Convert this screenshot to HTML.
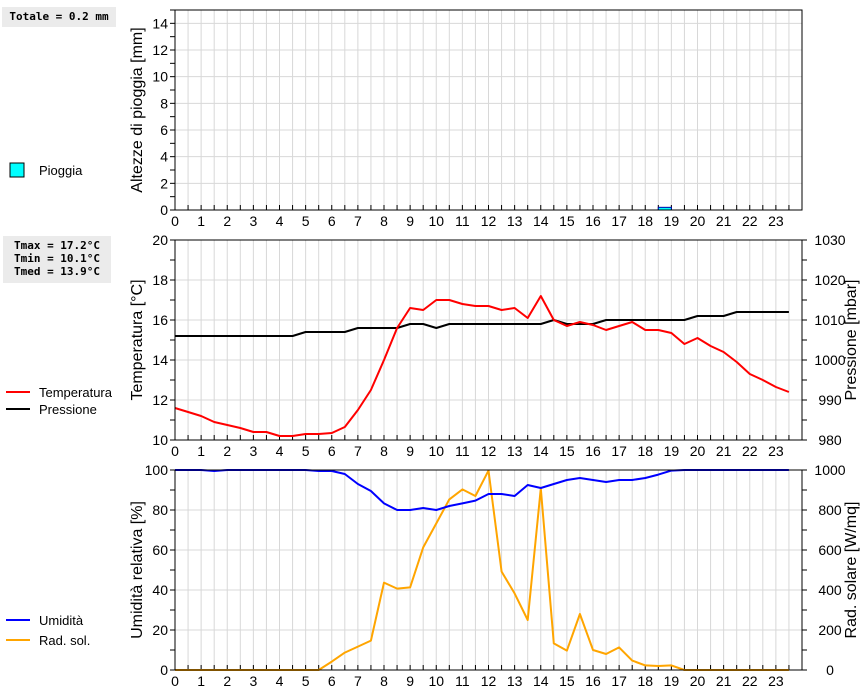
<!DOCTYPE html>
<html><head><meta charset="utf-8"><style>
body{margin:0;background:#fff;width:860px;height:690px;overflow:hidden}
svg{font-family:"Liberation Sans",sans-serif}
.mono{font-family:"DejaVu Sans Mono","Liberation Mono",monospace;font-weight:bold;font-size:11px}
</style></head><body>
<svg id="chart" width="860" height="690" xmlns="http://www.w3.org/2000/svg"></svg>
<script>
const hours = [0,0.5,1,1.5,2,2.5,3,3.5,4,4.5,5,5.5,6,6.5,7,7.5,8,8.5,9,9.5,10,10.5,11,11.5,12,12.5,13,13.5,14,14.5,15,15.5,16,16.5,17,17.5,18,18.5,19,19.5,20,20.5,21,21.5,22,22.5,23,23.5];
const temperature = [11.6,11.4,11.2,10.9,10.75,10.6,10.4,10.4,10.2,10.2,10.3,10.3,10.35,10.65,11.5,12.5,14.0,15.6,16.6,16.5,17.0,17.0,16.8,16.7,16.7,16.5,16.6,16.1,17.2,16.0,15.7,15.9,15.75,15.5,15.7,15.9,15.5,15.5,15.35,14.8,15.1,14.7,14.4,13.9,13.3,13.0,12.65,12.4];
const pressure = [1006,1006,1006,1006,1006,1006,1006,1006,1006,1006,1007,1007,1007,1007,1008,1008,1008,1008,1009,1009,1008,1009,1009,1009,1009,1009,1009,1009,1009,1010,1009,1009,1009,1010,1010,1010,1010,1010,1010,1010,1011,1011,1011,1012,1012,1012,1012,1012];
const humidity = [100,100,100,99.5,100,100,100,100,100,100,100,99.5,99.5,98,93,89.5,83.3,80,80,81,80,82,83.3,84.7,88,88,87,92.5,91,93,95,96,95,94,95,95,96,97.7,99.7,100,100,100,100,100,100,100,100,100];
const radiation = [0,0,0,0,0,0,0,0,0,0,0,0,42,87,117,147,437,407,413,613,733,853,903,870,997,492,383,250,908,133,97,280,100,80,113,47,23,20,23,0,0,0,0,0,0,0,0,0];
const rainHours = [18.5];
const rainValues = [0.2];
const xTicks = [0,1,2,3,4,5,6,7,8,9,10,11,12,13,14,15,16,17,18,19,20,21,22,23];
const rainTicks = [0,2,4,6,8,10,12,14];
const tempTicks = [10,12,14,16,18,20];
const presTicks = [980,990,1000,1010,1020,1030];
const humTicks = [0,20,40,60,80,100];
const radTicks = [0,200,400,600,800,1000];

const svg = document.getElementById('chart');
const NS = 'http://www.w3.org/2000/svg';
const X0 = 175, X1 = 802;
const xs = h => X0 + h * (X1 - X0) / 24;
function mk(tag, attrs, parent){const e=document.createElementNS(NS,tag);for(const k in attrs)e.setAttribute(k,attrs[k]);(parent||svg).appendChild(e);return e;}
function txt(s, attrs, parent){const e=mk('text',attrs,parent);e.textContent=s;return e;}

function panel(name, top, bot, min, max, ticks, minorStep, title){
  const g = mk('g',{});
  
  
  const ys = v => bot - (v-min)*(bot-top)/(max-min);
  for(let h=0.5; h<24; h+=0.5){
    const l = mk('line',{x1:xs(h),x2:xs(h),y1:top,y2:bot,stroke:'#d8d8d8','stroke-width':1},g);
    
    
  }
  ticks.forEach(v=>{ if(v>min && v<max){
    const l = mk('line',{x1:X0,x2:X1,y1:ys(v),y2:ys(v),stroke:'#d8d8d8','stroke-width':1},g);
    
    
  }});
  for(let v=min; v<=max+1e-9; v+=minorStep){
    mk('line',{x1:X0-5,x2:X0,y1:ys(v),y2:ys(v),stroke:'#000'},g);
  }
  for(let h=0.5; h<24; h+=0.5){ mk('line',{x1:xs(h),x2:xs(h),y1:bot-5,y2:bot,stroke:'#000'},g); }
  ticks.forEach(v=>{
    const t = txt(String(v),{x:X0-7,y:ys(v)+5,'text-anchor':'end','font-size':14,fill:'#000'},g);
    
    
  });
  xTicks.forEach(h=>{
    const t = txt(String(h),{x:xs(h),y:bot+16,'text-anchor':'middle','font-size':14,fill:'#000'},g);
    
    
  });
  const yt = txt(title,{x:0,y:0,transform:`translate(142,${(top+bot)/2}) rotate(-90)`,'text-anchor':'middle','font-size':16,fill:'#000'},g);
  
  
  return {g, ys};
}
function frame(p, top, bot){
  const r = mk('rect',{x:X0,y:top,width:X1-X0,height:bot-top,fill:'none',stroke:'#000','stroke-width':1},p.g);
  
  
}
function rightAxis(p, top, bot, min, max, ticks, minorStep, title){
  const ys = v => bot - (v-min)*(bot-top)/(max-min);
  for(let v=min; v<=max+1e-9; v+=minorStep){ mk('line',{x1:X1,x2:X1+5,y1:ys(v),y2:ys(v),stroke:'#000'},p.g); }
  ticks.forEach(v=>{
    const t = txt(String(v),{x:X1+28,y:ys(v)+5,'text-anchor':'middle','font-size':14,fill:'#000'},p.g);
    
    
  });
  const yt = txt(title,{x:0,y:0,transform:`translate(856,${(top+bot)/2}) rotate(-90)`,'text-anchor':'middle','font-size':16,fill:'#000'},p.g);
  
  
  return ys;
}
function line(vals, ys, color, name, parent){
  const pts = hours.map((h,i)=>xs(h).toFixed(1)+','+ys(vals[i]).toFixed(1)).join(' ');
  const pl = mk('polyline',{points:pts,fill:'none',stroke:color,'stroke-width':2,'stroke-linejoin':'round'},parent);
  
  
}

// Panel 1: rain
const p1 = panel('rain',10,210,0,15,rainTicks,1,'Altezze di pioggia [mm]');
rainHours.forEach((h,i)=>{
  const y = p1.ys(rainValues[i]);
  const b = mk('rect',{x:xs(h),y:y,width:xs(h+0.5)-xs(h),height:210-y,fill:'#00ffff',stroke:'#0000aa','stroke-width':1},p1.g);
  
  
});
frame(p1,10,210);

// Panel 2: temperature + pressure
const p2 = panel('temperature',240,440,10,20,tempTicks,1,'Temperatura [°C]');
const yp = rightAxis(p2,240,440,980,1030,presTicks,5,'Pressione [mbar]');
line(pressure, yp, '#000', 'pressure-line', p2.g);
line(temperature, p2.ys, '#ff0000', 'temperature-line', p2.g);
frame(p2,240,440);

// Panel 3: humidity + radiation
const p3 = panel('humidity',470,670,0,100,humTicks,10,'Umidità relativa [%]');
const yr = rightAxis(p3,470,670,0,1000,radTicks,100,'Rad. solare [W/mq]');
line(radiation, yr, '#ffa500', 'radiation-line', p3.g);
line(humidity, p3.ys, '#0000ff', 'humidity-line', p3.g);
frame(p3,470,670);

// Left info boxes & legends
function infoBox(lines, x, y, w, h, name){
  const g = mk('g',{});
  
  
  mk('rect',{x:x,y:y,width:w,height:h,fill:'#ebebeb'},g);
  lines.forEach((s,i)=>{ txt(s,{x:x+w/2,y:y+13+i*13,'text-anchor':'middle',class:'mono',fill:'#000'},g); });
}
infoBox(['Totale = 0.2 mm'],2,7,114,20,'rain-total-box');
infoBox(['Tmax = 17.2°C','Tmin = 10.1°C','Tmed = 13.9°C'],3,236,108,47,'temperature-stats-box');

function legend(label, y, color, kind, name){
  const g = mk('g',{});
  
  
  if(kind==='box'){ mk('rect',{x:10,y:y-7,width:14,height:14,fill:'#00ffff',stroke:'#000'},g); }
  else { mk('line',{x1:6,x2:30,y1:y,y2:y,stroke:color,'stroke-width':2},g); }
  txt(label,{x:39,y:y+5,'font-size':13,fill:'#000'},g);
}
legend('Pioggia',170,null,'box','legend-pioggia');
legend('Temperatura',392,'#ff0000','line','legend-temperatura');
legend('Pressione',409,'#000','line','legend-pressione');
legend('Umidità',620,'#0000ff','line','legend-umidita');
legend('Rad. sol.',640,'#ffa500','line','legend-rad-sol');
</script>
</body></html>
